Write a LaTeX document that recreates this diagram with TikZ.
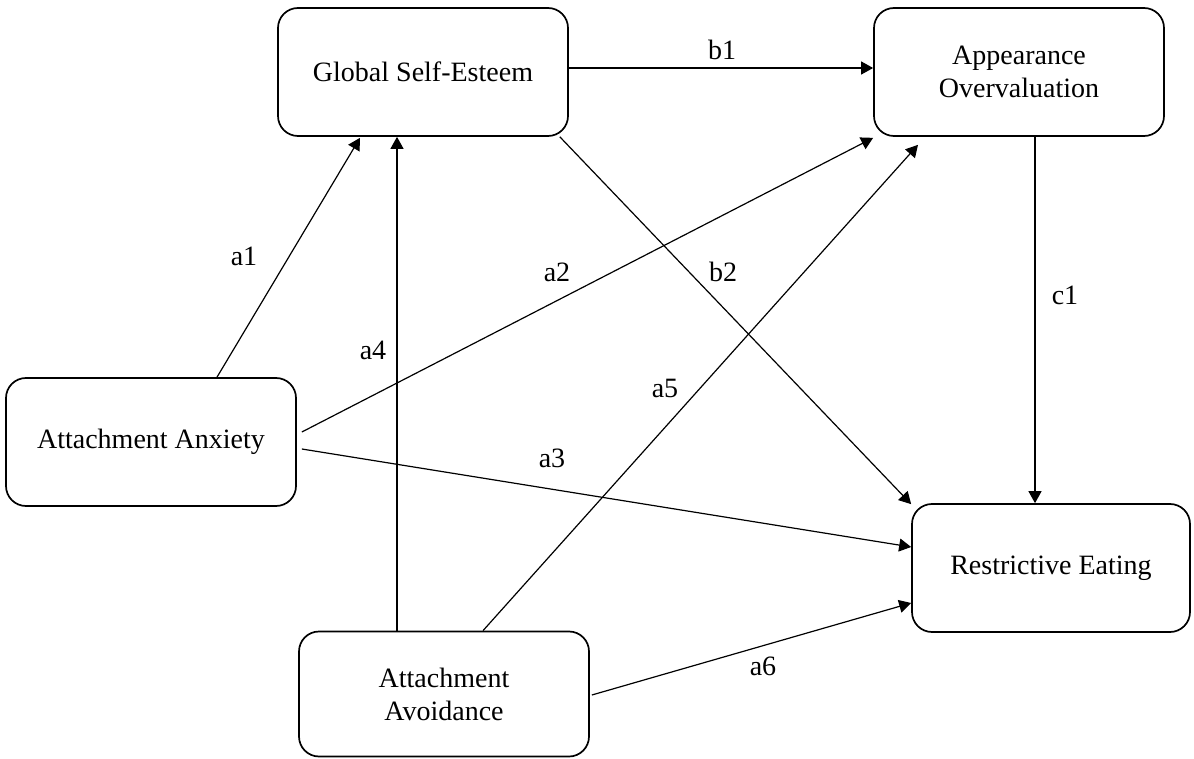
\documentclass[tikz,border=0pt]{standalone}
\usepackage{fontspec}
\setmainfont{Liberation Serif}
\usetikzlibrary{calc, arrows.meta}

\begin{document}
\begin{tikzpicture}[
			x = 0.5pt, y = -0.5pt,
			every node/.style = {font = \fontsize{14}{16.5}\selectfont},
			box/.style = {draw, line width = 0.85pt, rectangle, rounded corners = 10pt,
				minimum width = 145pt, minimum height = 64pt, align = center, inner sep = 0pt},
			path/.style = {line width = 0.6pt, -{Triangle[length = 6pt, width = 6.5pt]}},
			lbl/.style = {inner sep = 0pt}]
			\useasboundingbox (0,0) rectangle (1194,759);

			% Boxes
			\node[box] (gse) at (423,72) {Global Self-Esteem};
			\node[box] (ao) at (1019,72) {Appearance\\Overvaluation};
			\node[box] (anx) at (151,442) {Attachment Anxiety};
			\node[box, minimum width = 139pt] (re) at (1051,568) {Restrictive Eating};
			\node[box, minimum height = 62.5pt] (avo) at (444,694) {Attachment\\Avoidance};

			% Paths
			\draw[path] ($(anx.north)+(66,0)$) -- ($(gse.south)+(-63,1)$);
			\draw[path] ($(avo.north)+(-47,0)$) -- ($(gse.south)+(-26,0)$);
			\draw[path] ($(gse.east)+(0,-4)$) -- ($(ao.west)+(0,-4)$);
			\draw[path] ($(anx.east)+(5,-10)$) -- ($(ao.south west)+(0,1)$);
			\draw[path] ($(avo.north)+(39,0)$) -- ($(ao.south)+(-101,8)$);
			\draw[path] ($(gse.south east)+(-9,0)$) -- ($(re.north west)+(0,1)$);
			\draw[path] ($(ao.south)+(16,0)$) -- ($(re.north)+(-16,0)$);
			\draw[path] ($(anx.east)+(5,7)$) -- ($(re.west)+(0,-21)$);
			\draw[path] ($(avo.east)+(2,1)$) -- ($(re.west)+(0,35)$);

			% Labels
			\node[lbl] (la1) at (244,256) {a1};
			\node[lbl] (lb1) at (722,50) {b1};
			\node[lbl] (la2) at (557,272) {a2};
			\node[lbl] (lb2) at (723,272) {b2};
			\node[lbl] (lc1) at (1065,295) {c1};
			\node[lbl] (la4) at (373,350) {a4};
			\node[lbl] (la5) at (665,388) {a5};
			\node[lbl] (la3) at (552,458) {a3};
			\node[lbl] (la6) at (763,666) {a6};
		\end{tikzpicture}
\end{document}
